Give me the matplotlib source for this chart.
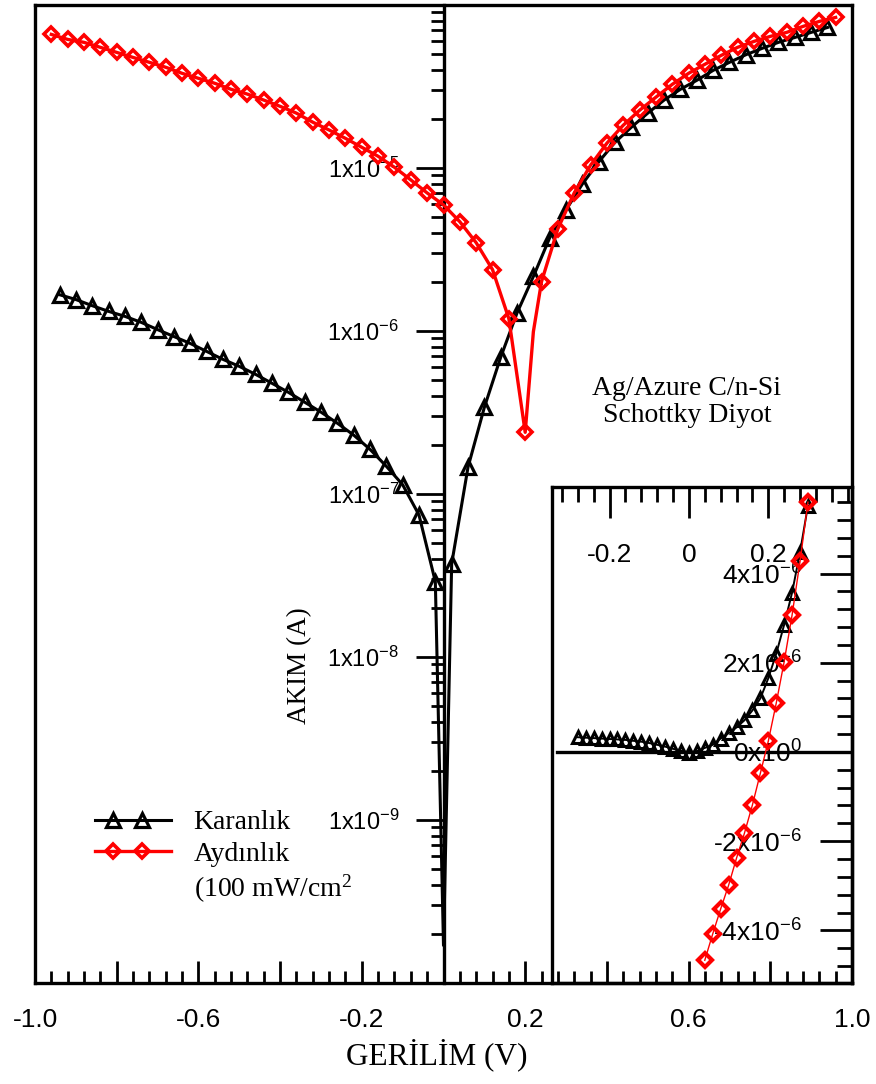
import numpy as np
import matplotlib
matplotlib.use('Agg')
import matplotlib.pyplot as plt
from matplotlib.ticker import FixedLocator, MultipleLocator, LogLocator, NullFormatter
from matplotlib.lines import Line2D
from matplotlib.legend_handler import HandlerLine2DCompound

plt.rcParams['font.family'] = ['Liberation Sans', 'DejaVu Sans']
plt.rcParams['mathtext.default'] = 'regular'
plt.rcParams['axes.unicode_minus'] = False

SERIF = ['Liberation Serif', 'DejaVu Serif']

# ---------------- data: main log plot ----------------
# Karanlik (dark): markers every 0.04 V, plus the dip point at 0 V (no marker)
v_dark = [-0.94, -0.90, -0.86, -0.82, -0.78, -0.74, -0.70, -0.66, -0.62, -0.58,
          -0.54, -0.50, -0.46, -0.42, -0.38, -0.34, -0.30, -0.26, -0.22, -0.18,
          -0.14, -0.10, -0.06, -0.02, 0.00,
          0.02, 0.06, 0.10, 0.14, 0.18, 0.22, 0.26, 0.30, 0.34, 0.38,
          0.42, 0.46, 0.50, 0.54, 0.58, 0.62, 0.66, 0.70, 0.74, 0.78,
          0.82, 0.86, 0.90, 0.94]
i_dark = [1.67e-6, 1.56e-6, 1.43e-6, 1.32e-6, 1.23e-6, 1.13e-6, 1.02e-6, 9.25e-7, 8.39e-7, 7.50e-7,
          6.70e-7, 6.07e-7, 5.42e-7, 4.78e-7, 4.21e-7, 3.66e-7, 3.18e-7, 2.72e-7, 2.30e-7, 1.88e-7,
          1.48e-7, 1.14e-7, 7.44e-8, 2.90e-8, 1.7e-10,
          3.73e-8, 1.46e-7, 3.40e-7, 6.90e-7, 1.29e-6, 2.16e-6, 3.73e-6, 5.54e-6, 7.98e-6, 1.09e-5,
          1.44e-5, 1.78e-5, 2.17e-5, 2.61e-5, 3.04e-5, 3.45e-5, 3.97e-5, 4.45e-5, 4.95e-5, 5.42e-5,
          5.90e-5, 6.32e-5, 6.79e-5, 7.28e-5]
dark_no_marker = [0.00]

# Aydinlik (illuminated, 100 mW/cm2)
v_light = [-0.96, -0.92, -0.88, -0.84, -0.80, -0.76, -0.72, -0.68, -0.64, -0.60,
           -0.56, -0.52, -0.48, -0.44, -0.40, -0.36, -0.32, -0.28, -0.24, -0.20,
           -0.16, -0.12, -0.08, -0.04, 0.00, 0.04, 0.08, 0.12, 0.16, 0.20,
           0.22, 0.24, 0.28, 0.32, 0.36, 0.40, 0.44, 0.48, 0.52, 0.56,
           0.60, 0.64, 0.68, 0.72, 0.76, 0.80, 0.84, 0.88, 0.92, 0.96]
i_light = [6.60e-5, 6.15e-5, 5.90e-5, 5.50e-5, 5.12e-5, 4.77e-5, 4.45e-5, 4.15e-5, 3.81e-5, 3.55e-5,
           3.31e-5, 3.04e-5, 2.84e-5, 2.61e-5, 2.39e-5, 2.17e-5, 1.91e-5, 1.71e-5, 1.52e-5, 1.34e-5,
           1.18e-5, 1.01e-5, 8.45e-6, 7.03e-6, 5.94e-6, 4.68e-6, 3.48e-6, 2.38e-6, 1.19e-6, 2.39e-7,
           9.90e-7, 2.01e-6, 4.24e-6, 7.03e-6, 1.04e-5, 1.42e-5, 1.83e-5, 2.26e-5, 2.72e-5, 3.26e-5,
           3.81e-5, 4.33e-5, 4.91e-5, 5.50e-5, 5.98e-5, 6.42e-5, 6.79e-5, 7.39e-5, 7.93e-5, 8.39e-5]
light_no_marker = [0.22]

# ---------------- data: linear inset (current in uA) ----------------
v_dark_in = [-0.28, -0.26, -0.24, -0.22, -0.20, -0.18, -0.16, -0.14, -0.12, -0.10,
             -0.08, -0.06, -0.04, -0.02, 0.00, 0.02, 0.04, 0.06, 0.08, 0.10,
             0.12, 0.14, 0.16, 0.18, 0.20, 0.22, 0.24, 0.26, 0.28, 0.30]
i_dark_in = [0.33, 0.32, 0.31, 0.30, 0.29, 0.28, 0.27, 0.25, 0.23, 0.20,
             0.16, 0.12, 0.07, 0.03, -0.02, 0.02, 0.09, 0.16, 0.30, 0.42,
             0.55, 0.71, 0.93, 1.20, 1.65, 2.20, 2.85, 3.57, 4.48, 5.52]
v_light_in = [0.04, 0.06, 0.08, 0.10, 0.12, 0.14, 0.16, 0.18, 0.20, 0.22, 0.24, 0.26, 0.28, 0.30]
i_light_in = [-4.67, -4.08, -3.52, -2.99, -2.38, -1.82, -1.19, -0.48, 0.24, 1.09, 2.02, 3.07, 4.27, 5.60]

# ticks / labels
x_major = [-0.8, -0.6, -0.4, -0.2, 0.0, 0.2, 0.4, 0.6, 0.8]
x_labels = ['', '-0.6', '', '-0.2', '', '0.2', '', '0.6', '']
x_edge_labels = ['-1.0', '1.0']
y_major = [1e-9, 1e-8, 1e-7, 1e-6, 1e-5]
y_labels = ['1x10$^{-9}$', '1x10$^{-8}$', '1x10$^{-7}$', '1x10$^{-6}$', '1x10$^{-5}$']
xin_major = [-0.2, 0.0, 0.2]
xin_labels = ['-0.2', '0', '0.2']
yin_major = [-4e-6, -2e-6, 0.0, 2e-6, 4e-6]
yin_labels = ['-4x10$^{-6}$', '-2x10$^{-6}$', '0x10$^{0}$', '2x10$^{-6}$', '4x10$^{-6}$']


class LongLineHandler(HandlerLine2DCompound):
    # line over the full handle, two markers placed inside it
    def get_xdata(self, legend, xdescent, ydescent, width, height, fontsize):
        x0 = -xdescent
        return np.array([x0, x0 + width]), np.array([x0 + 0.24 * width, x0 + 0.62 * width])


W, H = 876, 1084
fig = plt.figure(figsize=(W / 100, H / 100), dpi=100)

# ---------------- main axes ----------------
L, R, T, B = 35, 852, 5, 983
ax = fig.add_axes([L / W, 1 - B / H, (R - L) / W, (B - T) / H])

dark_marks = [k for k, v in enumerate(v_dark) if v not in dark_no_marker]
light_marks = [k for k, v in enumerate(v_light) if v not in light_no_marker]

l1, = ax.plot(v_dark, i_dark, color='black', lw=2.2, marker='^', ms=9.5, mfc='none',
              mew=2.3, markevery=dark_marks, zorder=3)
l2, = ax.plot(v_light, i_light, color='red', lw=2.4, marker='D', ms=7.5, mfc='none',
              mew=2.6, markevery=light_marks, zorder=4)

ax.set_yscale('log')
ax.set_xlim(-1.0, 1.0)
ax.set_ylim(1e-10, 1e-4)

for s in ax.spines.values():
    s.set_linewidth(2.4)
ax.spines['left'].set_position(('data', 0))
ax.axvline(-1.0, color='black', lw=2.4, clip_on=False, zorder=5)

ax.xaxis.set_major_locator(FixedLocator(x_major))
ax.set_xticklabels(x_labels)
ax.xaxis.set_minor_locator(MultipleLocator(0.04))
ax.tick_params(axis='x', which='both', direction='in', top=False, bottom=True,
               labelsize=19, pad=18, width=2)
ax.tick_params(axis='x', which='major', length=16)
ax.tick_params(axis='x', which='minor', length=8.5)
# outer labels at the frame edges
for xv, lab in zip([-1.0, 1.0], x_edge_labels):
    ax.text(xv, -18 / 72 * 100 / (B - T), lab, transform=ax.get_xaxis_transform(),
            ha='center', va='top', fontsize=19)

ax.yaxis.set_major_locator(FixedLocator(y_major))
ax.set_yticklabels(y_labels)
ax.yaxis.set_minor_locator(LogLocator(base=10, subs=np.arange(2, 10)))
ax.yaxis.set_minor_formatter(NullFormatter())
ax.tick_params(axis='y', which='both', direction='out', right=False, left=True,
               labelsize=17, pad=12, width=2)
ax.tick_params(axis='y', which='major', length=20)
ax.tick_params(axis='y', which='minor', length=9.5)

ax.set_xlabel('GERİLİM (V)', family=SERIF, fontsize=22.5)
ax.xaxis.set_label_coords((436.5 - L) / (R - L), -(1038 - B) / (B - T))
ax.set_ylabel('AKIM (A)', family=SERIF, fontsize=19.5)
ax.yaxis.set_label_coords((312 - L) / (R - L), (B - 666) / (B - T))

ax.text((687 - L) / (R - L), (B - 402) / (B - T), 'Ag/Azure C/n-Si\nSchottky Diyot',
        transform=ax.transAxes, ha='center', va='center', family=SERIF, fontsize=20,
        linespacing=1.15)

blank = Line2D([], [], color='none')
ax.legend([l1, l2, blank], ['Karanlık', 'Aydınlık', '(100 mW/cm$^{2}$'],
          loc='upper left', bbox_to_anchor=(95 / W, 1 - 810 / H), bbox_transform=fig.transFigure,
          frameon=False, prop={'family': SERIF, 'size': 20}, handlelength=2.75,
          handletextpad=0.8, labelspacing=0.22, borderpad=0, borderaxespad=0,
          handler_map={Line2D: LongLineHandler()})

# ---------------- inset ----------------
IL, IT = 552, 487
axin = fig.add_axes([IL / W, 1 - B / H, (R - IL) / W, (B - IT) / H])
axin.set_facecolor('none')
axin.axhline(0, xmin=0.017, color='black', lw=2.4, zorder=1.5)
axin.plot(v_dark_in, np.array(i_dark_in) * 1e-6, color='black', lw=1.4, marker='^', ms=8.5,
          mfc='none', mew=2.2, zorder=3)
axin.plot(v_light_in, np.array(i_light_in) * 1e-6, color='red', lw=1.0, marker='D', ms=7,
          mfc='none', mew=3, zorder=4)
axin.set_xlim(-0.345, 0.411)
axin.set_ylim(-5.18e-6, 5.94e-6)
for s in axin.spines.values():
    s.set_linewidth(2.4)

axin.xaxis.tick_top()
axin.set_xticks(xin_major)
axin.set_xticklabels(xin_labels)
axin.xaxis.set_minor_locator(MultipleLocator(0.04))
axin.tick_params(axis='x', which='both', direction='in', top=True, bottom=False,
                 labeltop=True, labelbottom=False, labelsize=19, pad=-40, width=2)
axin.tick_params(axis='x', which='major', length=22)
axin.tick_params(axis='x', which='minor', length=11)
for t in axin.get_xticklabels():
    t.set_va('top')

axin.yaxis.tick_right()
axin.set_yticks(yin_major)
axin.set_yticklabels(yin_labels)
axin.yaxis.set_minor_locator(MultipleLocator(0.4e-6))
axin.tick_params(axis='y', which='both', direction='in', right=True, left=False,
                 labelright=True, labelleft=False, labelsize=19, pad=-36, width=2)
axin.tick_params(axis='y', which='major', length=23)
axin.tick_params(axis='y', which='minor', length=11)
for t in axin.get_yticklabels():
    t.set_ha('right')

fig.savefig('out.png', dpi=100)
